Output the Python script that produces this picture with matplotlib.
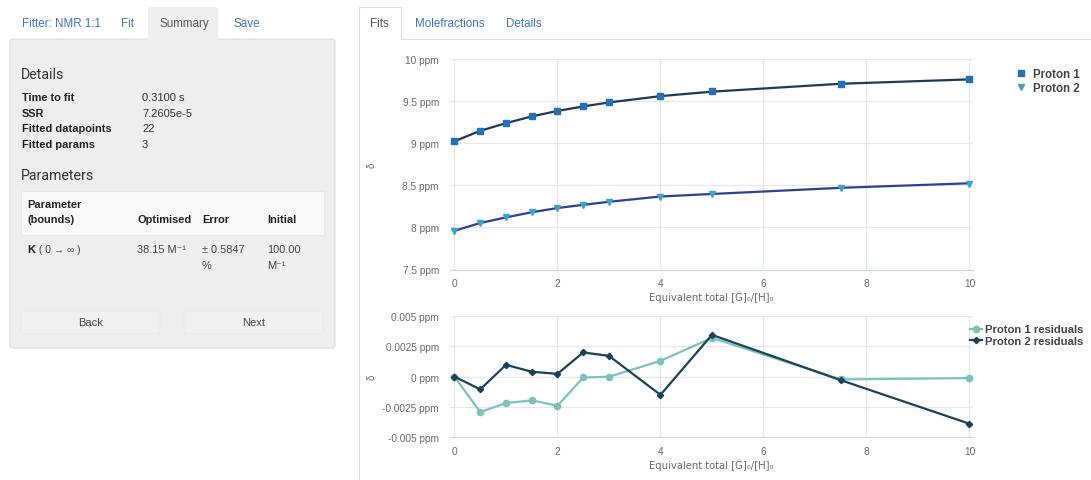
import numpy as np
import matplotlib.pyplot as plt
from matplotlib.patches import Rectangle, FancyBboxPatch

W, H = 1091, 481

# titration points
x_equiv = [0, 0.5, 1, 1.5, 2, 2.5, 3, 4, 5, 7.5, 10]
proton1 = [9.024, 9.15, 9.24, 9.32, 9.385, 9.437, 9.484, 9.56, 9.615, 9.706, 9.758]
proton2 = [7.96, 8.051, 8.12, 8.18, 8.23, 8.27, 8.306, 8.365, 8.40, 8.47, 8.52]
# fitted curves
fit1 = [9.024, 9.147, 9.238, 9.318, 9.383, 9.437, 9.484, 9.559, 9.612, 9.706, 9.758]
fit2 = [7.96, 8.052, 8.119, 8.18, 8.23, 8.268, 8.304, 8.367, 8.397, 8.47, 8.524]
# residuals (ppm)
resid1 = [0, -0.00292, -0.00218, -0.00196, -0.0024, -0.00007, -0.00001, 0.0013, 0.00319, -0.00023, -0.00012]
resid2 = [0, -0.00105, 0.00097, 0.0004, 0.00023, 0.00199, 0.00171, -0.0015, 0.00344, -0.00029, -0.00388]

y_ticks_fit = [7.5, 8, 8.5, 9, 9.5, 10]
y_labels_fit = ["7.5 ppm", "8 ppm", "8.5 ppm", "9 ppm", "9.5 ppm", "10 ppm"]
y_ticks_res = [-0.005, -0.0025, 0, 0.0025, 0.005]
y_labels_res = ["-0.005 ppm", "-0.0025 ppm", "0 ppm", "0.0025 ppm", "0.005 ppm"]
x_ticks = [0, 2, 4, 6, 8, 10]

details = [("Time to fit", "0.3100 s"), ("SSR", "7.2605e-5"),
           ("Fitted datapoints", "22"), ("Fitted params", "3")]

LINK = "#3b78c3"
TXT = "#333333"
TICK = "#6b6b6b"
GRID = "#e6e8ec"
FAM = ["Liberation Sans", "DejaVu Sans"]

plt.rcParams["font.family"] = FAM

fig = plt.figure(figsize=(W / 100, H / 100), dpi=100)
ui = fig.add_axes([0, 0, 1, 1], zorder=0)
ui.set_xlim(0, W)
ui.set_ylim(H, 0)
ui.axis("off")

# ---- left panel ----
ui.add_patch(FancyBboxPatch((10, 40), 325, 309, boxstyle="round,pad=0,rounding_size=3",
                            fc="#eeeeee", ec="#dcdcdc", lw=0.8))
ui.add_patch(FancyBboxPatch((148, 8), 70, 36, boxstyle="round,pad=0,rounding_size=3",
                            fc="#eeeeee", ec="none"))
ui.text(22, 24, "Fitter: NMR 1:1", color=LINK, fontsize=8.4, va="center")
ui.text(121, 24, "Fit", color=LINK, fontsize=8.4, va="center")
ui.text(159, 24, "Summary", color="#555555", fontsize=8.4, va="center")
ui.text(233, 24, "Save", color=LINK, fontsize=8.4, va="center")

ui.text(21, 75, "Details", color=TXT, fontsize=10.2, va="center", family=["Roboto", "DejaVu Sans"])
for i, (k, v) in enumerate(details):
    y = 98 + i * 15.7
    ui.text(22, y, k, color="#222222", fontsize=7.9, fontweight="bold", va="center")
    ui.text(142, y, v, color=TXT, fontsize=8.0, va="center")

ui.text(21, 176, "Parameters", color=TXT, fontsize=10.2, va="center", family=["Roboto", "DejaVu Sans"])
ui.add_patch(Rectangle((21, 192), 303, 44, fc="#f9f9f9", ec="#e4e4e4", lw=0.5))
ui.text(27, 205, "Parameter", color="#222222", fontsize=7.9, fontweight="bold", va="center")
ui.text(27, 220, "(bounds)", color="#222222", fontsize=7.9, fontweight="bold", va="center")
ui.text(137, 220, "Optimised", color="#222222", fontsize=7.9, fontweight="bold", va="center")
ui.text(202, 220, "Error", color="#222222", fontsize=7.9, fontweight="bold", va="center")
ui.text(267, 220, "Initial", color="#222222", fontsize=7.9, fontweight="bold", va="center")

ui.text(27, 250, "K", color="#222222", fontsize=7.9, fontweight="bold", va="center")
ui.text(36, 250, " ( 0 → ∞ )", color="#444444", fontsize=7.4, va="center", family=FAM)
ui.text(137, 250, "38.15 M⁻¹", color="#444444", fontsize=7.9, va="center", family=FAM)
ui.text(202, 250, "± 0.5847", color="#444444", fontsize=7.9, va="center")
ui.text(202, 266, "%", color="#444444", fontsize=7.9, va="center")
ui.text(267, 250, "100.00", color="#444444", fontsize=7.9, va="center")
ui.text(267, 266, "M⁻¹", color="#444444", fontsize=7.9, va="center", family=FAM)

for bx, label in [(21, "Back"), (184, "Next")]:
    ui.add_patch(FancyBboxPatch((bx, 312), 139, 23, boxstyle="round,pad=0,rounding_size=3",
                                fc="#f0f0f0", ec="#e8e8e8", lw=0.5))
    ui.text(bx + 70, 323.5, label, color="#444444", fontsize=8.0, ha="center", va="center")

# ---- right panel tabs ----
ui.plot([359, 359, 401, 401], [481, 8, 8, 40], color="#dddddd", lw=0.8)
ui.plot([401, W], [40, 40], color="#dddddd", lw=0.8)
ui.text(370, 24, "Fits", color="#555555", fontsize=8.4, va="center")
ui.text(415, 24, "Molefractions", color=LINK, fontsize=8.4, va="center")
ui.text(506, 24, "Details", color=LINK, fontsize=8.4, va="center")


def chart_axes(x0, y0, x1, y1):
    ax = fig.add_axes([x0 / W, 1 - y1 / H, (x1 - x0) / W, (y1 - y0) / H], zorder=2)
    ax.patch.set_alpha(0)
    for s in ("top", "right", "left"):
        ax.spines[s].set_visible(False)
    ax.spines["bottom"].set_color("#cdd7e6")
    ax.grid(True, color=GRID, lw=0.9)
    ax.set_axisbelow(True)
    ax.tick_params(length=0, labelsize=7.3, labelcolor=TICK, pad=8)
    ax.tick_params(axis="x", pad=6)
    ax.set_xlim(-0.087, 10.07)
    ax.set_xticks(x_ticks)
    ax.set_xticklabels([str(t) for t in x_ticks])
    ax.set_xlabel("Equivalent total [G]₀/[H]₀", fontsize=7.2, color=TICK, labelpad=3,
                  family=["DejaVu Sans"])
    ax.set_ylabel("δ", fontsize=7, color=TICK)
    ax.yaxis.set_label_coords(-0.14, 0.5)
    return ax


def style_legend(leg):
    for t in leg.get_texts():
        t.set_fontweight("bold")
        t.set_color("#444444")


# ---- fit chart ----
ax1 = chart_axes(450, 59.5, 973, 270.5)
ax1.set_ylim(7.5, 10.006)
ax1.set_yticks(y_ticks_fit)
ax1.set_yticklabels(y_labels_fit)
ax1.plot(x_equiv, fit1, color="#1d3a56", lw=1.6, zorder=3)
ax1.plot(x_equiv, fit2, color="#2f3f97", lw=1.6, zorder=3)
ax1.plot(x_equiv, proton1, ls="none", marker="s", ms=5, color="#2372b6", label="Proton 1", zorder=4)
ax1.plot(x_equiv, proton2, ls="none", marker="v", ms=5, color="#3fa6c2", label="Proton 2", zorder=4)
leg1 = ax1.legend(loc="upper left", bbox_to_anchor=(1.075, 0.975), frameon=False, fontsize=8.3,
                  handlelength=0.8, handletextpad=0.6, labelspacing=0.1, borderaxespad=0)
style_legend(leg1)

# ---- residual chart ----
ax2 = chart_axes(450, 316.7, 973, 438.3)
ax2.set_ylim(-0.005, 0.00502)
ax2.set_yticks(y_ticks_res)
ax2.set_yticklabels(y_labels_res)
ax2.plot(x_equiv, resid1, color="#7cc4bb", lw=1.6, marker="o", ms=4.5, label="Proton 1 residuals", zorder=3)
ax2.plot(x_equiv, resid2, color="#17435f", lw=1.6, marker="D", ms=3.2, label="Proton 2 residuals", zorder=4)
leg2 = ax2.legend(loc="upper left", bbox_to_anchor=(0.985, 0.965), frameon=False, fontsize=8.1,
                  handlelength=1.1, handletextpad=0.3, labelspacing=0.1, borderaxespad=0)
style_legend(leg2)

fig.savefig("out.png", dpi=100)
